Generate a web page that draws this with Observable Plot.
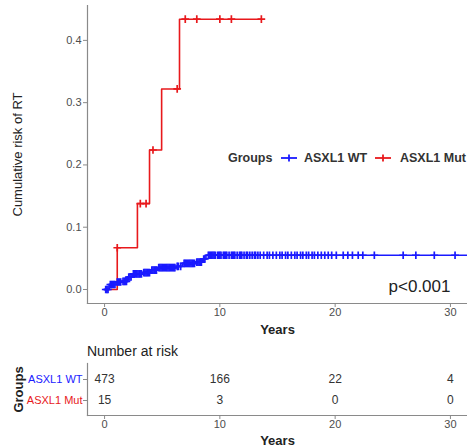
<!DOCTYPE html>
<html>
<head>
<meta charset="utf-8">
<script src="https://cdn.jsdelivr.net/npm/d3@7"></script>
<script src="https://cdn.jsdelivr.net/npm/@observablehq/plot@0.6"></script>
<style>
  body { margin:0; width:467px; height:446px; overflow:hidden; background:#fff; position:relative;
         font-family:"Liberation Sans", Arial, sans-serif; }
  .abs { position:absolute; white-space:nowrap; }
  #main { position:absolute; left:0; top:0; }
  #risk { position:absolute; left:0; top:358px; }
  #main g[aria-label="x-axis label"] text, #risk g[aria-label="x-axis label"] text { fill:#222; font-weight:bold; font-size:13px; }
  #main g[aria-label="y-axis label"] text { fill:#222; font-size:13px; }
  #risk g[aria-label="y-axis label"] text { fill:#222; font-weight:bold; font-size:13px; }
  .leg { font-size:12.5px; font-weight:bold; color:#333; line-height:14px; }
</style>
</head>
<body>
<div id="main"></div>
<div class="abs" id="riskTitle" style="left:87px; top:343px; font-size:14px; color:#222; line-height:16px;"></div>
<div id="risk"></div>
<div id="legend"></div>
<script>
// ---- data ----
const groups = ["ASXL1 WT", "ASXL1 Mut"];
const groupColors = ["#1a1aff", "#e8191c"];

// ASXL1 WT cumulative incidence steps
const wtTimes = [0, 0.4, 1.0, 1.5, 2.0, 2.4, 3.3, 4.0, 4.6, 6.2, 6.75, 7.9, 8.5, 8.8, 31.8];
const wtRisk  = [0, 0.008, 0.012, 0.013, 0.020, 0.025, 0.027, 0.031, 0.035, 0.037, 0.042, 0.044, 0.049, 0.055, 0.055];
const wtCensor = [0.1, 0.2, 0.3, 0.5, 0.6, 0.7, 0.8, 0.9, 1.1, 1.2, 1.3, 1.4, 1.6, 1.7, 1.8, 1.9, 2.1, 2.2, 2.3,
  2.5, 2.6, 2.7, 2.8, 2.9, 3.0, 3.1, 3.2, 3.4, 3.5, 3.6, 3.7, 3.8, 3.9, 4.1, 4.2, 4.3, 4.4, 4.5,
  4.7, 4.8, 4.9, 5.0, 5.1, 5.2, 5.3, 5.4, 5.5, 5.6, 5.7, 5.8, 5.9, 6.0, 6.1, 6.3, 6.4, 6.6,
  6.9, 7.0, 7.1, 7.2, 7.3, 7.4, 7.5, 7.6, 7.7, 7.8, 8.0, 8.1, 8.2, 8.3, 8.4, 8.6, 8.7,
  9.0, 9.1, 9.2, 9.3, 9.4, 9.5, 9.6, 9.8, 9.9, 10.0, 10.1, 10.3, 10.4, 10.5, 10.6, 10.8, 11.0, 11.1,
  11.2, 11.3, 11.5, 11.7, 11.8, 11.9, 12.1, 12.3, 12.4, 12.6, 12.8, 13.0, 13.1, 13.3, 13.5, 13.8,
  14.1, 14.3, 14.6, 14.9, 15.2, 15.4, 15.7, 15.9, 16.2, 16.5, 16.7, 17.0, 17.2, 17.5, 17.7, 18.0,
  18.2, 18.5, 18.8, 19.1, 19.4, 19.7, 20.1, 20.7, 21.1, 21.5, 22.0, 22.4, 23.4, 25.9, 27.0, 28.6, 30.4];

// ASXL1 Mut cumulative incidence steps
const mutTimes = [0, 1.1, 2.85, 3.9, 4.95, 6.5, 13.6];
const mutRisk  = [0, 0.067, 0.138, 0.224, 0.322, 0.434, 0.434];
const mutCensor = [1.1, 3.1, 3.6, 4.2, 6.3, 7.0, 8.0, 10.0, 11.0, 13.6];

// Number at risk table
const riskTimes = [0, 10, 20, 30];
const wtAtRisk  = [473, 166, 22, 4];
const mutAtRisk = [15, 3, 0, 0];

const xTicks = [0, 10, 20, 30];
const yTicks = [0, 0.1, 0.2, 0.3, 0.4];
const pLabel = ["p<0.001"];

// ---- build tables ----
const curves = [
  ...wtTimes.map((t, i) => ({group: groups[0], time: t, risk: wtRisk[i]})),
  ...mutTimes.map((t, i) => ({group: groups[1], time: t, risk: mutRisk[i]}))
];
function riskAt(times, risks, t) { return risks[Math.max(0, d3.bisectRight(times, t) - 1)]; }
const censors = [
  ...wtCensor.map(t => ({group: groups[0], time: t, risk: riskAt(wtTimes, wtRisk, t)})),
  ...mutCensor.map(t => ({group: groups[1], time: t, risk: riskAt(mutTimes, mutRisk, t)}))
];
const riskRows = [
  ...riskTimes.map((t, i) => ({group: groups[0], time: t, n: wtAtRisk[i]})),
  ...riskTimes.map((t, i) => ({group: groups[1], time: t, n: mutAtRisk[i]}))
];

const xDomain = [-1.48, 31.48];
const font = "Liberation Sans, Arial, sans-serif";
const axisGray = "#8a8a8a";

const main = Plot.plot({
  width: 467, height: 340,
  marginLeft: 87, marginRight: 0, marginTop: 5, marginBottom: 37,
  style: {fontFamily: font, fontSize: "11px", color: "#4d4d4d", background: "white", overflow: "visible"},
  x: {domain: xDomain},
  y: {domain: [-0.0225, 0.456]},
  color: {domain: groups, range: groupColors},
  marks: [
    Plot.frame({anchor: "left", stroke: axisGray, strokeWidth: 1.2}),
    Plot.frame({anchor: "bottom", stroke: axisGray, strokeWidth: 1.2}),
    Plot.axisX({ticks: xTicks, tickSize: 4, tickPadding: 1, stroke: axisGray, fill: "#4d4d4d",
      label: "Years", labelAnchor: "center", labelArrow: "none", labelOffset: 30}),
    Plot.axisY({ticks: yTicks, tickSize: 4, tickPadding: 2, tickFormat: ".1f", stroke: axisGray, fill: "#4d4d4d",
      label: "Cumulative risk of RT", labelAnchor: "center", labelArrow: "none", labelOffset: 75}),
    Plot.line(curves, {x: "time", y: "risk", z: "group", stroke: "group", curve: "step-after", strokeWidth: 1.6, clip: true}),
    Plot.dot(censors, {x: "time", y: "risk", stroke: "group", fill: "none", symbol: "plus", r: 2.6, strokeWidth: 1.7, clip: true}),
    Plot.text(pLabel, {text: d => d, frameAnchor: "bottom-right", textAnchor: "end", lineAnchor: "bottom",
      dx: -17, dy: -12, fontSize: 17, fill: "#222"})
  ]
});
document.getElementById("main").append(main);

document.getElementById("riskTitle").textContent = "Number at risk";

const risk = Plot.plot({
  width: 467, height: 88,
  marginLeft: 87, marginRight: 0, marginTop: 5, marginBottom: 31,
  style: {fontFamily: font, fontSize: "11px", color: "#4d4d4d", background: "white", overflow: "visible"},
  x: {domain: xDomain},
  y: {type: "point", domain: groups, padding: 0.72},
  color: {domain: groups, range: groupColors},
  marks: [
    Plot.frame({anchor: "left", stroke: axisGray, strokeWidth: 1.2}),
    Plot.frame({anchor: "bottom", stroke: axisGray, strokeWidth: 1.2}),
    Plot.axisX({ticks: xTicks, tickSize: 4, tickPadding: 1, stroke: axisGray, fill: "#4d4d4d",
      label: "Years", labelAnchor: "center", labelArrow: "none", labelOffset: 29}),
    Plot.axisY({tickSize: 4, tickFormat: () => "", stroke: axisGray,
      label: "Groups", labelAnchor: "center", labelArrow: "none", labelOffset: 74}),
    Plot.text(groups, {y: d => d, text: d => d, fill: d => d, frameAnchor: "left", textAnchor: "end", dx: -5, fontSize: 11}),
    Plot.text(riskRows, {x: "time", y: "group", text: "n", fill: "#333", fontSize: 12})
  ]
});
document.getElementById("risk").append(risk);

// legend
const legend = document.getElementById("legend");
function addText(txt, left) {
  const d = document.createElement("div");
  d.className = "abs leg"; d.style.left = left + "px"; d.style.top = "151px";
  d.textContent = txt; legend.append(d);
}
function addKey(color, left) {
  const ns = "http://www.w3.org/2000/svg";
  const s = document.createElementNS(ns, "svg");
  s.setAttribute("width", 16); s.setAttribute("height", 10);
  s.style.position = "absolute"; s.style.left = left + "px"; s.style.top = "153px";
  s.innerHTML = `<line x1="0" x2="16" y1="5" y2="5" stroke="${color}" stroke-width="1.8"/><line x1="8" x2="8" y1="1.5" y2="8.5" stroke="${color}" stroke-width="1.8"/>`;
  legend.append(s);
}
addText("Groups", 228);
addKey(groupColors[0], 281);
addText(groups[0], 304);
addKey(groupColors[1], 375);
addText(groups[1], 400);
</script>
</body>
</html>
